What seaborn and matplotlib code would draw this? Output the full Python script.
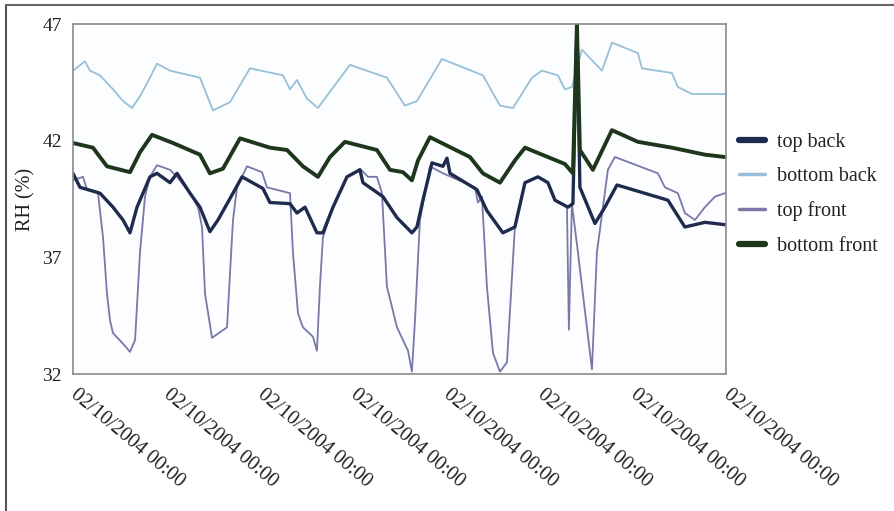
import numpy as np
import pandas as pd
import matplotlib
matplotlib.use("Agg")
import matplotlib.pyplot as plt
import seaborn as sns
from matplotlib.lines import Line2D

# ---- data (time in days from start, RH in %) ----
series_names = ["top back", "bottom back", "top front", "bottom front"]

tb_t = [0, 0.075, 0.289, 0.429, 0.536, 0.611, 0.686, 0.825, 0.900, 1.040,
        1.115, 1.254, 1.361, 1.468, 1.554, 1.715, 1.812, 2.036, 2.111, 2.326,
        2.401, 2.487, 2.615, 2.679, 2.787, 2.937, 3.076, 3.108, 3.323, 3.473,
        3.633, 3.687, 3.751, 3.848, 3.966, 4.009, 4.041, 4.330, 4.437, 4.608,
        4.737, 4.845, 4.984, 5.091, 5.166, 5.305, 5.359, 5.402, 5.434, 5.595,
        5.702, 5.831, 6.377, 6.559, 6.774, 6.988]
tb_v = [40.6, 40.0, 39.75, 39.15, 38.6, 38.05, 39.15, 40.45, 40.6, 40.2,
        40.6, 39.75, 39.15, 38.1, 38.6, 39.75, 40.45, 39.95, 39.35, 39.3,
        38.9, 39.15, 38.05, 38.05, 39.15, 40.45, 40.75, 40.2, 39.6, 38.7,
        38.05, 38.3, 39.45, 41.05, 40.9, 41.25, 40.6, 39.9, 39.0, 38.05,
        38.3, 40.2, 40.45, 40.2, 39.45, 39.15, 39.3, 47.0, 40.0, 38.45,
        39.15, 40.1, 39.45, 38.3, 38.5, 38.4]

bb_t = [0.00, 0.129, 0.182, 0.289, 0.429, 0.536, 0.632, 0.718, 0.825, 0.900,
        1.040, 1.361, 1.500, 1.683, 1.897, 2.251, 2.326, 2.401, 2.508, 2.626,
        2.755, 2.969, 3.365, 3.558, 3.687, 3.955, 4.394, 4.577, 4.716, 4.920,
        5.027, 5.198, 5.273, 5.348, 5.456, 5.670, 5.777, 6.056, 6.099, 6.420,
        6.484, 6.634, 7.00]
bb_v = [45.0, 45.4, 45.0, 44.8, 44.2, 43.7, 43.4, 43.9, 44.7, 45.3,
        45.0, 44.7, 43.3, 43.65, 45.1, 44.8, 44.2, 44.6, 43.8, 43.4,
        44.1, 45.25, 44.7, 43.5, 43.7, 45.5, 44.8, 43.5, 43.4, 44.7,
        45.0, 44.8, 44.2, 44.3, 45.9, 45.0, 46.2, 45.75, 45.1, 44.9,
        44.3, 44.0, 44.0]

tf_t = [0, 0.107, 0.150, 0.268, 0.322, 0.364, 0.397, 0.429, 0.536, 0.611,
        0.665, 0.718, 0.772, 0.825, 0.900, 1.040, 1.115, 1.254, 1.340, 1.383,
        1.415, 1.490, 1.651, 1.715, 1.758, 1.865, 2.026, 2.079, 2.326, 2.358,
        2.412, 2.465, 2.572, 2.615, 2.647, 2.679, 2.787, 2.937, 3.076, 3.162,
        3.258, 3.312, 3.365, 3.473, 3.591, 3.633, 3.666, 3.719, 3.826, 3.966,
        4.309, 4.341, 4.384, 4.437, 4.502, 4.577, 4.652, 4.737, 4.845, 4.984,
        5.091, 5.166, 5.295, 5.316, 5.348, 5.413, 5.563, 5.616, 5.734, 5.809,
        6.270, 6.345, 6.484, 6.559, 6.667, 6.774, 6.881, 6.988]
tf_v = [40.3, 40.45, 39.9, 39.75, 37.85, 35.45, 34.3, 33.75, 33.3, 32.95,
        33.45, 37.2, 39.6, 40.45, 40.95, 40.75, 40.45, 39.75, 39.15, 38.3,
        35.45, 33.55, 34.0, 38.6, 40.0, 40.9, 40.65, 40.0, 39.75, 37.2,
        34.6, 34.0, 33.6, 33.0, 35.75, 37.85, 39.15, 40.45, 40.8, 40.45,
        40.45, 39.75, 35.75, 34.0, 33.0, 32.1, 34.3, 38.6, 40.9, 40.6,
        40.0, 39.35, 39.6, 35.75, 32.9, 32.1, 32.5, 38.3, 40.2, 40.45,
        40.2, 39.45, 39.2, 33.9, 39.3, 37.2, 32.2, 37.2, 40.75, 41.3,
        40.6, 40.0, 39.75, 38.9, 38.6, 39.15, 39.6, 39.75]

bf_t = [0, 0.214, 0.364, 0.611, 0.718, 0.847, 1.072, 1.361, 1.468, 1.608,
        1.790, 2.111, 2.294, 2.465, 2.626, 2.755, 2.915, 3.258, 3.398, 3.537,
        3.633, 3.698, 3.826, 4.255, 4.394, 4.577, 4.737, 4.845, 5.273, 5.359,
        5.402, 5.434, 5.573, 5.777, 6.056, 6.420, 6.774, 6.988]
bf_v = [41.9, 41.7, 40.9, 40.65, 41.5, 42.25, 41.9, 41.4, 40.6, 40.8,
        42.1, 41.7, 41.6, 40.9, 40.45, 41.3, 41.95, 41.6, 40.75, 40.65,
        40.3, 41.15, 42.15, 41.3, 40.6, 40.2, 41.15, 41.7, 41.0, 40.6,
        47.0, 41.6, 40.75, 42.45, 41.95, 41.7, 41.4, 41.3]

x_ticks = [0, 1, 2, 3, 4, 5, 6, 7]
x_tick_labels = ["02/10/2004 00:00"] * 8
y_ticks = [32, 37, 42, 47]

colors = {"top back": "#1f2b4d", "bottom back": "#98bfd6",
          "top front": "#7b77a9", "bottom front": "#1d361c"}
widths = {"top back": 2.4, "bottom back": 1.3, "top front": 1.3, "bottom front": 2.8}

frames = []
for name, t, v in [("top back", tb_t, tb_v), ("bottom back", bb_t, bb_v),
                   ("top front", tf_t, tf_v), ("bottom front", bf_t, bf_v)]:
    frames.append(pd.DataFrame({"t": t, "rh": v, "sensor": name}))
df = pd.concat(frames, ignore_index=True)

sns.set_style("white")
plt.rcParams["font.family"] = ["Liberation Serif", "DejaVu Serif"]

fig = plt.figure(figsize=(8.95, 5.11), dpi=100)
ax = fig.add_axes([73 / 895, 1 - 374 / 511, (726 - 73) / 895, (374 - 24) / 511])
ax.set_facecolor("#fbfdfe")

draw_order = ["bottom back", "top front", "top back", "bottom front"]
for name in draw_order:
    sub = df[df["sensor"] == name]
    sns.lineplot(data=sub, x="t", y="rh", ax=ax, color=colors[name],
                 linewidth=widths[name], sort=False, estimator=None, legend=False)

ax.set_xlim(0, 7)
ax.set_ylim(32, 47)
ax.set_xticks(x_ticks)
ax.set_xticklabels(x_tick_labels, rotation=-40, ha="left", va="center",
                   rotation_mode="anchor", fontsize=14.5, color="#222222")
ax.set_yticks(y_ticks)
ax.set_yticklabels([str(v) for v in y_ticks], fontsize=14, color="#222222")
ax.set_xlabel("")
ax.set_ylabel("RH (%)", fontsize=14.5, color="#222222")
ax.yaxis.set_label_coords(-0.058, 0.5)
ax.tick_params(axis="both", which="major", direction="out", length=4,
               width=1, color="#999999", pad=4)
ax.tick_params(axis="x", pad=9)
for s in ax.spines.values():
    s.set_color("#8a8a8a")
    s.set_linewidth(1.2)

handles = [Line2D([0], [0], color=colors[n], linewidth=(4.5 if widths[n] > 2 else 2.5))
           for n in series_names]
fig.legend(handles, series_names, loc="upper left",
           bbox_to_anchor=(725 / 895, 1 - 119 / 511), frameon=False,
           fontsize=14.5, handlelength=1.3, handletextpad=0.6, labelspacing=0.75,
           borderpad=0.2, labelcolor="#222222")

# outer figure border (left and top)
fig.add_artist(Line2D([6.5 / 895, 6.5 / 895], [0, 1 - 5 / 511],
                      transform=fig.transFigure, color="#555555", linewidth=1.5))
fig.add_artist(Line2D([6 / 895, 1], [1 - 5.5 / 511, 1 - 5.5 / 511],
                      transform=fig.transFigure, color="#666666", linewidth=1.5))

fig.savefig("out.png", dpi=100)
